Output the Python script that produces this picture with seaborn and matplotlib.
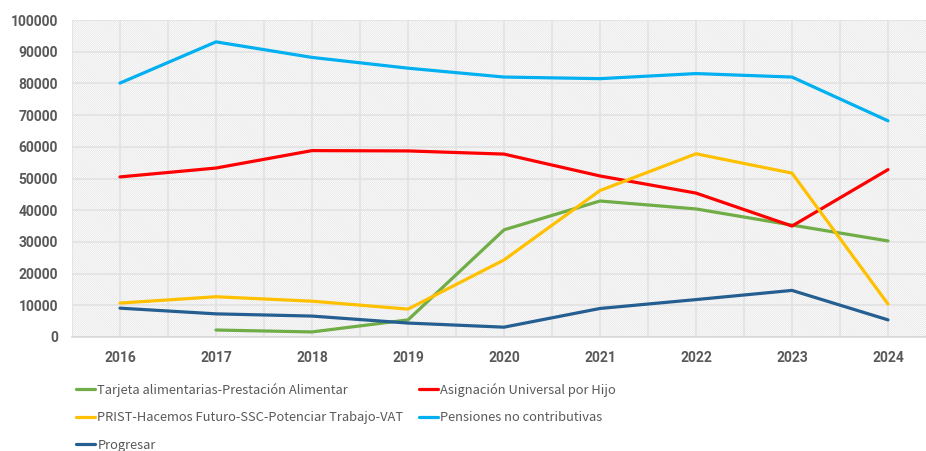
import matplotlib
matplotlib.use("Agg")
import pandas as pd
import numpy as np
import matplotlib.pyplot as plt
import seaborn as sns
from matplotlib.patches import Rectangle
from matplotlib.ticker import MultipleLocator, FixedLocator

sns.set_theme(style="white")
plt.rcParams['font.family'] = ['Noto Sans CJK SC', 'Roboto', 'DejaVu Sans']
plt.rcParams['hatch.linewidth'] = 0.3

years = [2016, 2017, 2018, 2019, 2020, 2021, 2022, 2023, 2024]
tarjeta = [np.nan, 2200, 1600, 5400, 33800, 42900, 40400, 35300, 30300]
auh = [50500, 53300, 58800, 58700, 57700, 50800, 45400, 35000, 52800]
prist = [10700, 12700, 11300, 8800, 24300, 46200, 57800, 51700, 10400]
pensiones = [80100, 93100, 88200, 84800, 82000, 81500, 83100, 82000, 68200]
progresar = [9100, 7300, 6600, 4400, 3100, 9000, 11800, 14700, 5400]

names = ["Tarjeta alimentarias-Prestación Alimentar",
         "Asignación Universal por Hijo",
         "PRIST-Hacemos Futuro-SSC-Potenciar Trabajo-VAT",
         "Pensiones no contributivas",
         "Progresar"]
colors = ["#70AD47", "#FF0000", "#FFC000", "#00B0F0", "#255E91"]

frames = []
for name, vals in zip(names, [tarjeta, auh, prist, pensiones, progresar]):
    frames.append(pd.DataFrame({"year": years, "value": vals, "serie": name}))
df = pd.concat(frames).dropna()

fig = plt.figure(figsize=(9.26, 4.51), dpi=100)
ax = fig.add_axes([72 / 926, 114 / 451, 864 / 926, 317 / 451])

# hatched background (fine diagonal lines)
ax.add_patch(Rectangle((0, 0), 1, 1, transform=ax.transAxes, facecolor="white",
                       edgecolor="#d4d4d4", hatch="\\" * 17, linewidth=0, zorder=0))

sns.lineplot(data=df, x="year", y="value", hue="serie", hue_order=names,
             palette=colors, linewidth=2.3, ax=ax, legend=False, zorder=3)

ax.set_xlim(2015.5, 2024.5)
ax.set_ylim(0, 100000)
ax.xaxis.set_major_locator(FixedLocator(years))
ax.xaxis.set_minor_locator(FixedLocator([y + 0.5 for y in [2015] + years]))
ax.yaxis.set_major_locator(MultipleLocator(10000))
ax.grid(True, which="both", axis="x", color="#e2e2e2", linewidth=1.2, zorder=1)
ax.grid(True, which="major", axis="y", color="#e2e2e2", linewidth=1.2, zorder=1)
ax.set_axisbelow(True)
for s in ["top", "right", "left"]:
    ax.spines[s].set_visible(False)
ax.spines["bottom"].set_color("#d9d9d9")
ax.spines["bottom"].set_linewidth(1.2)
ax.tick_params(axis="both", which="both", length=0, colors="#595959")
ax.tick_params(axis="x", pad=10)
ax.tick_params(axis="y", pad=10)
for lab in ax.get_xticklabels() + ax.get_yticklabels():
    lab.set_fontfamily(["Roboto", "DejaVu Sans"])
    lab.set_fontweight("bold")
    lab.set_fontsize(10)
ax.set_xlabel("")
ax.set_ylabel("")

# legend, ordered to fill row by row
order = [0, 2, 4, 1, 3]
handles = [plt.Line2D([], [], color=colors[i], linewidth=2.3) for i in order]
labels = [names[i] for i in order]
leg = fig.legend(handles, labels, loc="upper left", bbox_to_anchor=(76 / 926, 1 - 383 / 451),
                 ncol=2, frameon=False, fontsize=9.3, handlelength=1.5, handletextpad=0.15,
                 columnspacing=1.2, labelspacing=1.12, borderpad=0, borderaxespad=0)
for t in leg.get_texts():
    t.set_color("#595959")

fig.savefig("out.png", dpi=100)
